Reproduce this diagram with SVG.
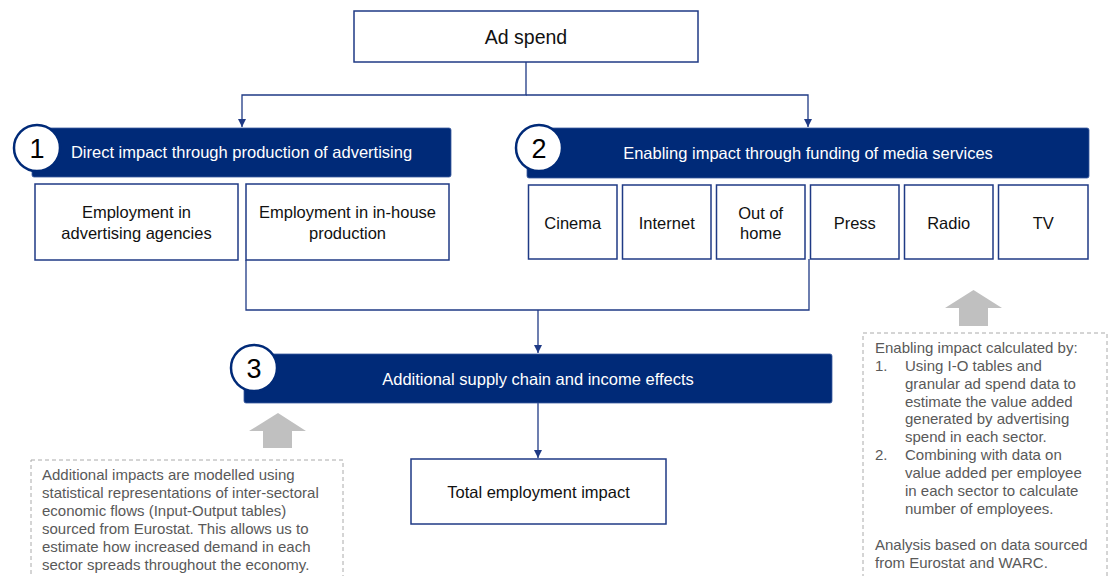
<svg xmlns="http://www.w3.org/2000/svg" width="1114" height="576" viewBox="0 0 1114 576">
<style>
  text { font-family: "Liberation Sans", Arial, sans-serif; }
  .box { fill: #ffffff; stroke: #1f3a85; stroke-width: 1.5; }
  .hdr { fill: #002a78; stroke: #3a5aa0; stroke-width: 0.8; }
  .circ { fill: #ffffff; stroke: #002a78; stroke-width: 2.5; }
  .num { font-size: 27px; fill: #000; text-anchor: middle; }
  .htxt { font-size: 16.5px; fill: #ffffff; text-anchor: middle; }
  .btxt { font-size: 16.5px; fill: #111; text-anchor: middle; }
  .conn { fill: none; stroke: #1f3a85; stroke-width: 1.3; }
  .note { fill: none; stroke: #aaaaaa; stroke-width: 1; stroke-dasharray: 4 3; }
  .ntxt { font-size: 15px; fill: #595959; }
  .garrow { fill: #c0c0c0; }
</style>
<defs>
  <marker id="arr" viewBox="0 0 10 10" refX="10" refY="5" markerWidth="8" markerHeight="8" markerUnits="userSpaceOnUse" orient="auto">
    <path d="M0,0 L10,5 L0,10 z" fill="#1f3a85"/>
  </marker>
</defs>

<g id="connectors">
  <path class="conn" d="M526,62 V95 H242 V127" marker-end="url(#arr)"/>
  <path class="conn" d="M526,95 H808 V127" marker-end="url(#arr)"/>
  <path class="conn" d="M246,260 V310 H809 V259"/>
  <path class="conn" d="M538,310 V353" marker-end="url(#arr)"/>
  <path class="conn" d="M538,403 V458" marker-end="url(#arr)"/>
</g>

<g id="ad-spend">
  <rect class="box" x="354" y="11" width="344" height="51"/>
  <text class="btxt" x="526" y="44" style="font-size:19.5px">Ad spend</text>
</g>

<g id="header-1">
  <rect class="hdr" x="32" y="128" width="419" height="49" rx="2"/>
  <circle class="circ" cx="37" cy="148" r="23"/>
  <text class="num" x="37" y="158">1</text>
  <text class="htxt" x="241.5" y="158">Direct impact through production of advertising</text>
</g>

<g id="header-2">
  <rect class="hdr" x="527" y="128" width="562" height="50" rx="2"/>
  <circle class="circ" cx="539" cy="148" r="23"/>
  <text class="num" x="539" y="158">2</text>
  <text class="htxt" x="808" y="159">Enabling impact through funding of media services</text>
</g>

<g id="agencies">
  <rect class="box" x="35" y="184" width="203" height="76"/>
  <text class="btxt" x="136.5" y="218">Employment in</text>
  <text class="btxt" x="136.5" y="239">advertising agencies</text>
</g>
<g id="inhouse">
  <rect class="box" x="246" y="184" width="203" height="76"/>
  <text class="btxt" x="347.5" y="218">Employment in in-house</text>
  <text class="btxt" x="347.5" y="239">production</text>
</g>

<g id="cinema">
  <rect class="box" x="528.5" y="185" width="88.5" height="74"/>
  <text class="btxt" x="572.75" y="229">Cinema</text>
</g>
<g id="internet">
  <rect class="box" x="622.5" y="185" width="88.5" height="74"/>
  <text class="btxt" x="666.75" y="229">Internet</text>
</g>
<g id="out-of-home">
  <rect class="box" x="716.5" y="185" width="88.5" height="74"/>
  <text class="btxt" x="760.75" y="219">Out of</text>
  <text class="btxt" x="760.75" y="239">home</text>
</g>
<g id="press">
  <rect class="box" x="810.5" y="185" width="88.5" height="74"/>
  <text class="btxt" x="854.75" y="229">Press</text>
</g>
<g id="radio">
  <rect class="box" x="904.5" y="185" width="88.5" height="74"/>
  <text class="btxt" x="948.75" y="229">Radio</text>
</g>
<g id="tv">
  <rect class="box" x="998.5" y="185" width="89.5" height="74"/>
  <text class="btxt" x="1043.25" y="229">TV</text>
</g>

<g id="header-3">
  <rect class="hdr" x="244" y="354" width="588" height="49" rx="2"/>
  <circle class="circ" cx="254" cy="368" r="23"/>
  <text class="num" x="254" y="378">3</text>
  <text class="htxt" x="538" y="385">Additional supply chain and income effects</text>
</g>

<g id="total">
  <rect class="box" x="411" y="459" width="255" height="65"/>
  <text class="btxt" x="538.5" y="498">Total employment impact</text>
</g>

<g id="note-left">
  <path class="garrow" d="M278,413 L306,431 L292,431 L292,448 L263,448 L263,431 L249,431 Z"/>
  <rect class="note" x="31" y="460" width="312" height="130"/>
  <text class="ntxt" x="42" y="480">Additional impacts are modelled using</text>
  <text class="ntxt" x="42" y="498">statistical representations of inter-sectoral</text>
  <text class="ntxt" x="42" y="516">economic flows (Input-Output tables)</text>
  <text class="ntxt" x="42" y="534">sourced from Eurostat. This allows us to</text>
  <text class="ntxt" x="42" y="552">estimate how increased demand in each</text>
  <text class="ntxt" x="42" y="570">sector spreads throughout the economy.</text>
</g>

<g id="note-right">
  <path class="garrow" d="M973.5,290 L1002,308 L988,308 L988,326 L959,326 L959,308 L945,308 Z"/>
  <rect class="note" x="863" y="333" width="244" height="260"/>
  <text class="ntxt" x="875" y="353">Enabling impact calculated by:</text>
  <text class="ntxt" x="875" y="371">1.</text>
  <text class="ntxt" x="905" y="371">Using I-O tables and</text>
  <text class="ntxt" x="905" y="389">granular ad spend data to</text>
  <text class="ntxt" x="905" y="407">estimate the value added</text>
  <text class="ntxt" x="905" y="424">generated by advertising</text>
  <text class="ntxt" x="905" y="442">spend in each sector.</text>
  <text class="ntxt" x="875" y="460">2.</text>
  <text class="ntxt" x="905" y="460">Combining with data on</text>
  <text class="ntxt" x="905" y="478">value added per employee</text>
  <text class="ntxt" x="905" y="496">in each sector to calculate</text>
  <text class="ntxt" x="905" y="514">number of employees.</text>
  <text class="ntxt" x="875" y="550">Analysis based on data sourced</text>
  <text class="ntxt" x="875" y="568">from Eurostat and WARC.</text>
</g>
</svg>
